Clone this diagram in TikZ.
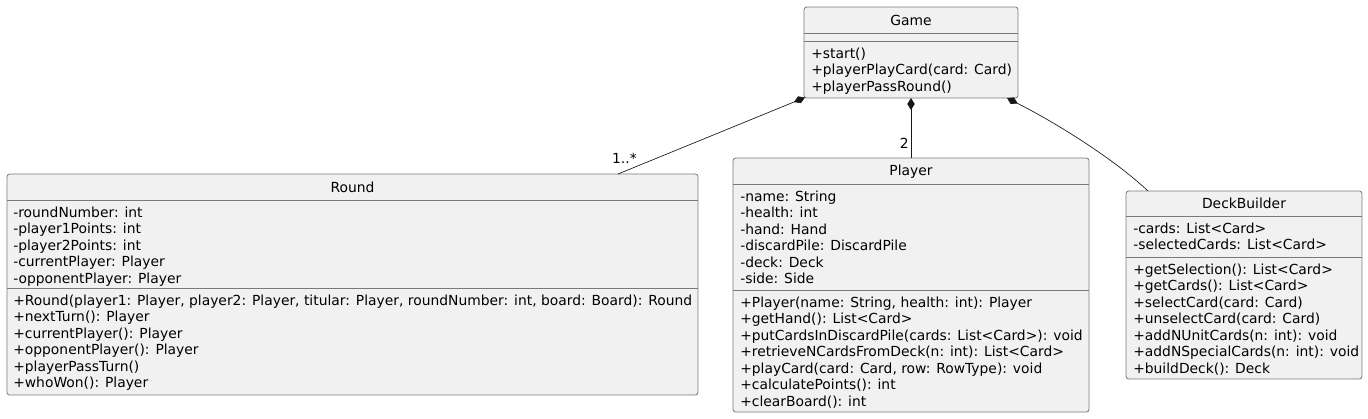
\documentclass[tikz,border=0pt]{standalone}
\usepackage{fontspec}
\setmainfont{DejaVu Sans}
\usetikzlibrary{arrows.meta}
\definecolor{boxfill}{HTML}{F1F1F1}
\definecolor{boxline}{HTML}{7A7A7A}
\definecolor{linkline}{HTML}{181818}
\tikzset{
  classbox/.style={draw=boxline, fill=boxfill, line width=0.6pt, rounded corners=2pt, inner sep=0pt},
  sepline/.style={draw=boxline, line width=0.6pt},
  members/.style={anchor=north west, inner sep=0pt, align=left, font=\fontsize{10.4pt}{12.375pt}\selectfont},
  cname/.style={inner sep=0pt, font=\fontsize{10.4pt}{12.375pt}\selectfont},
  comp/.style={draw=linkline, line width=0.5pt, {Diamond[length=9pt,width=5.5pt,fill=linkline]}-},
  mult/.style={inner sep=0pt, font=\fontsize{10.4pt}{12.375pt}\selectfont}
}
\begin{document}
\begin{tikzpicture}[x=0.75pt,y=-0.75pt]
\useasboundingbox (0,0) rectangle (1368,418);
% Game
\node[classbox, minimum width=214*0.75pt, minimum height=91*0.75pt] (game) at (911,52.5) {};
\node[cname] (gamename) at (911,20.5) {Game};
\draw[sepline] (804,33) -- (1018,33);
\draw[sepline] (804,41) -- (1018,41);
\node[members] (gamem) at (811,47.5) {+start()\\+playerPlayCard(card: Card)\\+playerPassRound()};
% Round
\node[classbox, minimum width=691*0.75pt, minimum height=221*0.75pt] (round) at (352.5,284.5) {};
\node[cname] (roundname) at (352.5,187.5) {Round};
\draw[sepline] (7,200) -- (698,200);
\draw[sepline] (7,288) -- (698,288);
\node[members] (rounda) at (13,206.5) {-roundNumber: int\\-player1Points: int\\-player2Points: int\\-currentPlayer: Player\\-opponentPlayer: Player};
\node[members] (roundm) at (13,294.5) {+Round(player1: Player, player2: Player, titular: Player, roundNumber: int, board: Board): Round\\+nextTurn(): Player\\+currentPlayer(): Player\\+opponentPlayer(): Player\\+playerPassTurn()\\+whoWon(): Player};
% Player
\node[classbox, minimum width=356*0.75pt, minimum height=254*0.75pt] (player) at (911,285) {};
\node[cname] (playername) at (911,171.5) {Player};
\draw[sepline] (733,184) -- (1089,184);
\draw[sepline] (733,290) -- (1089,290);
\node[members] (playera) at (740,190.5) {-name: String\\-health: int\\-hand: Hand\\-discardPile: DiscardPile\\-deck: Deck\\-side: Side};
\node[members] (playerm) at (740,296.5) {+Player(name: String, health: int): Player\\+getHand(): List<Card>\\+putCardsInDiscardPile(cards: List<Card>): void\\+retrieveNCardsFromDeck(n: int): List<Card>\\+playCard(card: Card, row: RowType): void\\+calculatePoints(): int\\+clearBoard(): int};
% DeckBuilder
\node[classbox, minimum width=236*0.75pt, minimum height=188*0.75pt] (deck) at (1244,285) {};
\node[cname] (deckname) at (1244,203.5) {DeckBuilder};
\draw[sepline] (1126,216) -- (1362,216);
\draw[sepline] (1126,257) -- (1362,257);
\node[members] (decka) at (1133,222.5) {-cards: List<Card>\\-selectedCards: List<Card>};
\node[members] (deckm) at (1133,263.5) {+getSelection(): List<Card>\\+getCards(): List<Card>\\+selectCard(card: Card)\\+unselectCard(card: Card)\\+addNUnitCards(n: int): void\\+addNSpecialCards(n: int): void\\+buildDeck(): Deck};
% connectors
\coordinate (g1) at (805,97.5);
\coordinate (r1) at (618,174);
\coordinate (g2) at (911,98);
\coordinate (p2) at (911,158);
\coordinate (g3) at (1007,98);
\coordinate (d3) at (1148,191);
\draw[comp] (g1) -- (r1);
\draw[comp] (g2) -- (p2);
\draw[comp] (g3) .. controls (1060,125) and (1115,160) .. (d3);
\node[mult, anchor=east] (m1) at (637,158) {1..*};
\node[mult, anchor=east] (m2) at (909,143) {2};
\end{tikzpicture}
\end{document}
